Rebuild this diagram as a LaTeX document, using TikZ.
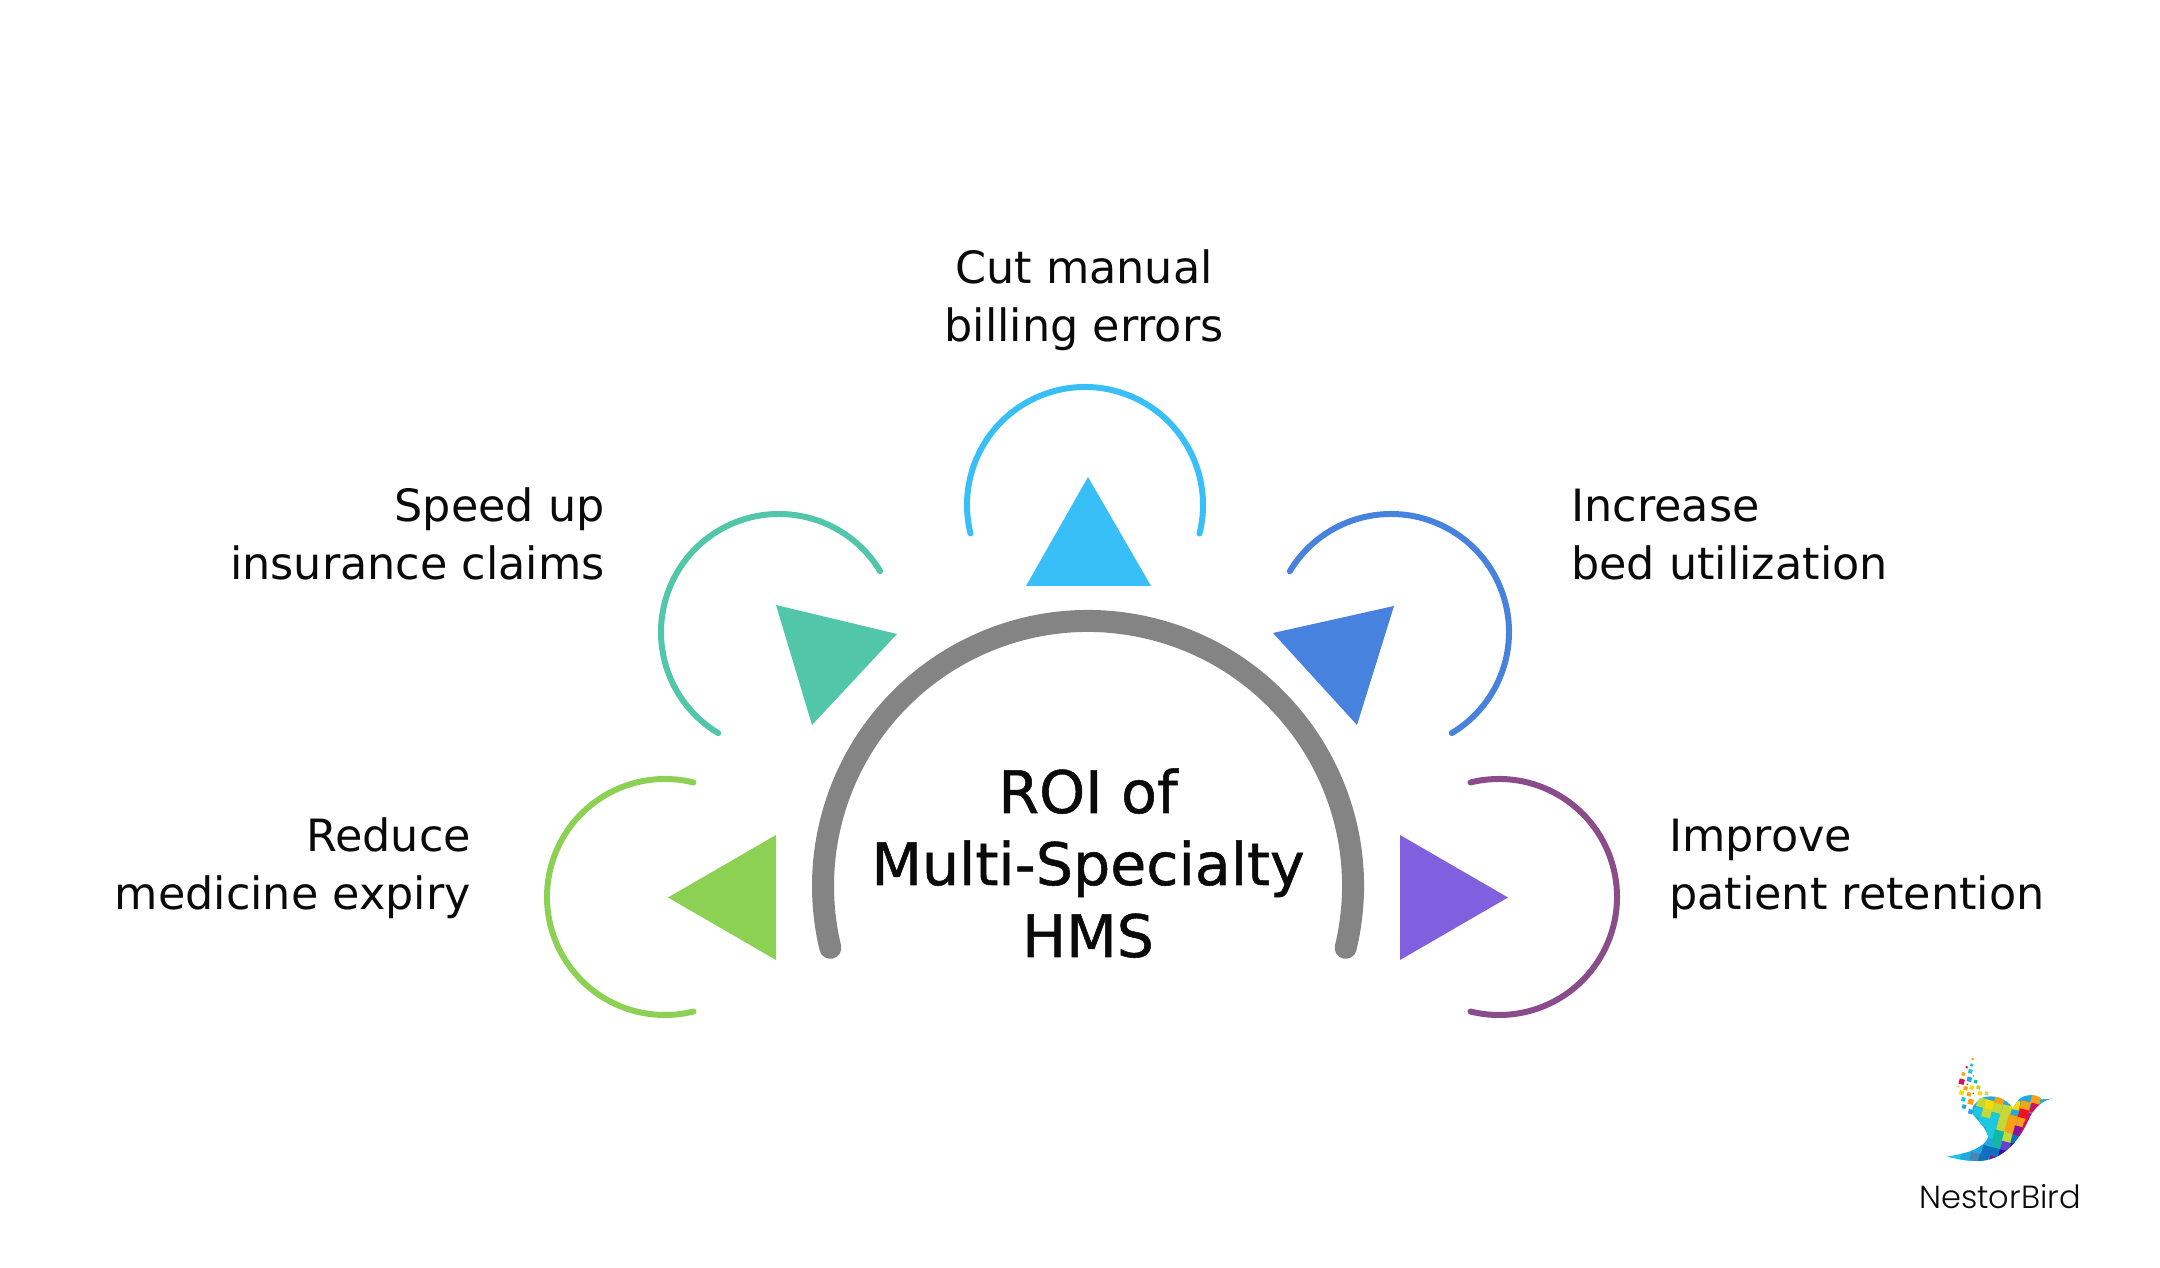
\documentclass[tikz,border=0pt]{standalone}
\usepackage{fontspec}
\setmainfont{DejaVu Sans}
\newfontfamily\titlefont[FakeBold=0.9]{DejaVu Sans}
\newfontfamily\logofont[UprightFont=* Light]{Poppins}
\usetikzlibrary{positioning}

\definecolor{ringgray}{HTML}{848484}
\definecolor{skycol}{HTML}{38BFF8}
\definecolor{tealcol}{HTML}{52C6A8}
\definecolor{bluecol}{HTML}{4682DE}
\definecolor{greencol}{HTML}{8DD154}
\definecolor{violetcol}{HTML}{8160E0}
\definecolor{plumcol}{HTML}{8A4C8A}
\definecolor{inkcol}{HTML}{0A0A0A}
\definecolor{lcya}{HTML}{1CC8E0}
\definecolor{llim}{HTML}{C4D838}
\definecolor{lyel}{HTML}{F8DC00}
\definecolor{lora}{HTML}{FBA012}
\definecolor{lred}{HTML}{F01020}
\definecolor{lcri}{HTML}{D8105A}
\definecolor{lpur}{HTML}{9010A0}
\definecolor{ltea}{HTML}{10B8A8}
\definecolor{lblu}{HTML}{1070C0}
\definecolor{lnav}{HTML}{3A10A0}
\definecolor{lvio}{HTML}{6840D0}
\definecolor{lste}{HTML}{4A86B0}
\definecolor{lsky}{HTML}{20A8E0}

\tikzset{
  ring/.style={line width=6pt, line cap=round},
  tri/.style={draw=none},
  lbl/.style={inner sep=0pt, text=inkcol, font=\fontsize{44.5}{58}\selectfont},
}

\newcommand{\logopix}[4]{\fill[#4, rotate around={-15:(#1,#2)}] ({#1-#3},{#2-#3}) rectangle ({#1+#3},{#2+#3});}

\begin{document}
\begin{tikzpicture}[x=1pt,y=1pt]

    \useasboundingbox (0,0) rectangle (2160,1268);

    % Centre arc and title
    \coordinate (hub) at (1088,382);
    \draw[ringgray, line width=22pt, line cap=round] ([shift={(-13.5:265pt)}]hub) arc[start angle=-13.5, end angle=193.5, radius=265pt];
    \node[inner sep=0pt, text=inkcol, anchor=base, align=center, font=\titlefont\fontsize{58.6}{72}\selectfont] (title) at (1088,311) {ROI of\\Multi-Specialty\\HMS};

    % Rings round the triangles
    \coordinate (ctop) at (1085,763);
    \coordinate (cteal) at (779,636);
    \coordinate (cblue) at (1391,636);
    \coordinate (cgreen) at (665,371);
    \coordinate (cplum) at (1499,371);
    \draw[ring, skycol] ([shift={(-14:118pt)}]ctop) arc[start angle=-14, end angle=194, radius=118pt];
    \draw[ring, tealcol] ([shift={(31:118pt)}]cteal) arc[start angle=31, end angle=239, radius=118pt];
    \draw[ring, bluecol] ([shift={(149:118pt)}]cblue) arc[start angle=149, end angle=-59, radius=118pt];
    \draw[ring, greencol] ([shift={(76:118pt)}]cgreen) arc[start angle=76, end angle=284, radius=118pt];
    \draw[ring, plumcol] ([shift={(104:118pt)}]cplum) arc[start angle=104, end angle=-104, radius=118pt];

    % Triangles
    \fill[tri, skycol] (1088,791) -- (1026,682) -- (1151,682) -- cycle;
    \fill[tri, tealcol] (776,663) -- (897,634) -- (812,543) -- cycle;
    \fill[tri, bluecol] (1394,662) -- (1273,635) -- (1357,543) -- cycle;
    \fill[tri, greencol] (776,433) -- (668,370.5) -- (776,308) -- cycle;
    \fill[tri, violetcol] (1400,433) -- (1508,370.5) -- (1400,308) -- cycle;

    % Labels
    \node[lbl, anchor=base, align=center] (billing) at (1084,926) {Cut manual\\billing errors};
    \node[lbl, anchor=base east, align=right] (claims) at (605,688) {Speed up\\insurance claims};
    \node[lbl, anchor=base west, align=left] (beds) at (1571,688) {Increase\\bed utilization};
    \node[lbl, anchor=base east, align=right] (expiry) at (471,358) {Reduce\\medicine expiry};
    \node[lbl, anchor=base west, align=left] (retention) at (1669,358) {Improve\\patient retention};

    % Logo
    \begin{scope}[shift={(1940,218)},x=0.3333pt,y=-0.3333pt]
        \begin{scope}
            \clip (22,320) .. controls (60,328) and (120,345) .. (170,320) .. controls (215,298) and (245,255) .. (270,200)
                .. controls (285,170) and (310,150) .. (338,146) -- (305,148) .. controls (290,132) and (255,130) .. (235,150)
                -- (218,175) .. controls (200,145) and (160,130) .. (120,145) -- (98,170) -- (98,192)
                .. controls (115,215) and (140,235) .. (145,262) .. controls (135,290) and (90,310) .. cycle;
            \fill[lsky] (0,120) rectangle (345,340);
            \logopix{125}{158}{14}{llim}
            \logopix{150}{165}{14}{lyel}
            \logopix{178}{150}{14}{lora}
            \logopix{172}{175}{14}{llim}
            \logopix{200}{180}{14}{llim}
            \logopix{115}{187}{14}{lcya}
            \logopix{140}{190}{14}{llim}
            \logopix{165}{203}{14}{lcya}
            \logopix{192}{205}{14}{llim}
            \logopix{217}{210}{14}{lora}
            \logopix{130}{215}{14}{lcya}
            \logopix{155}{228}{14}{lcya}
            \logopix{185}{230}{14}{llim}
            \logopix{210}{235}{14}{lora}
            \logopix{148}{252}{14}{lcya}
            \logopix{175}{255}{14}{ltea}
            \logopix{203}{262}{14}{llim}
            \logopix{145}{278}{14}{lsky}
            \logopix{170}{283}{14}{ltea}
            \logopix{197}{290}{14}{lvio}
            \logopix{225}{290}{14}{lnav}
            \logopix{228}{268}{14}{lblu}
            \logopix{140}{302}{14}{lblu}
            \logopix{165}{308}{14}{lblu}
            \logopix{190}{315}{14}{lnav}
            \logopix{105}{318}{14}{lste}
            \logopix{130}{328}{14}{lblu}
            \logopix{160}{333}{14}{lpur}
            \logopix{75}{322}{14}{lsky}
            \logopix{45}{322}{16}{lcya}
            \logopix{110}{295}{14}{lsky}
            \logopix{225}{165}{14}{lyel}
            \logopix{255}{168}{14}{lora}
            \logopix{287}{150}{14}{lora}
            \logopix{250}{192}{14}{lred}
            \logopix{285}{175}{14}{lcri}
            \logopix{245}{218}{14}{lora}
            \logopix{272}{205}{14}{lcri}
            \logopix{235}{243}{14}{lpur}
            \logopix{262}{232}{14}{lcri}
        \end{scope}
        % loose pixels of the tail
        \logopix{98}{27}{3}{lora}
        \logopix{95}{45}{4}{lcya}
        \logopix{80}{52}{3}{lred}
        \logopix{70}{72}{5}{lora}
        \logopix{91}{64}{6}{lcya}
        \logopix{100}{78}{2}{lcya}
        \logopix{107}{95}{5}{ltea}
        \logopix{88}{88}{7}{lsky}
        \logopix{65}{95}{8}{lcri}
        \logopix{82}{103}{2}{lred}
        \logopix{77}{115}{6}{lora}
        \logopix{95}{113}{6}{lyel}
        \logopix{115}{112}{6}{llim}
        \logopix{100}{130}{2}{lred}
        \logopix{65}{128}{7}{lyel}
        \logopix{87}{133}{6}{lora}
        \logopix{120}{130}{6}{lyel}
        \logopix{140}{130}{5}{llim}
        \logopix{70}{148}{6}{lcya}
        \logopix{92}{155}{8}{lora}
        \logopix{72}{170}{6}{lsky}
        \logopix{92}{185}{7}{lsky}
        \logopix{55}{110}{2}{lora}
    \end{scope}
    \node[inner sep=0pt, text=inkcol, anchor=base, font=\logofont\fontsize{32}{36}\selectfont] (brand) at (2000,59) {NestorBird};

\end{tikzpicture}
\end{document}
